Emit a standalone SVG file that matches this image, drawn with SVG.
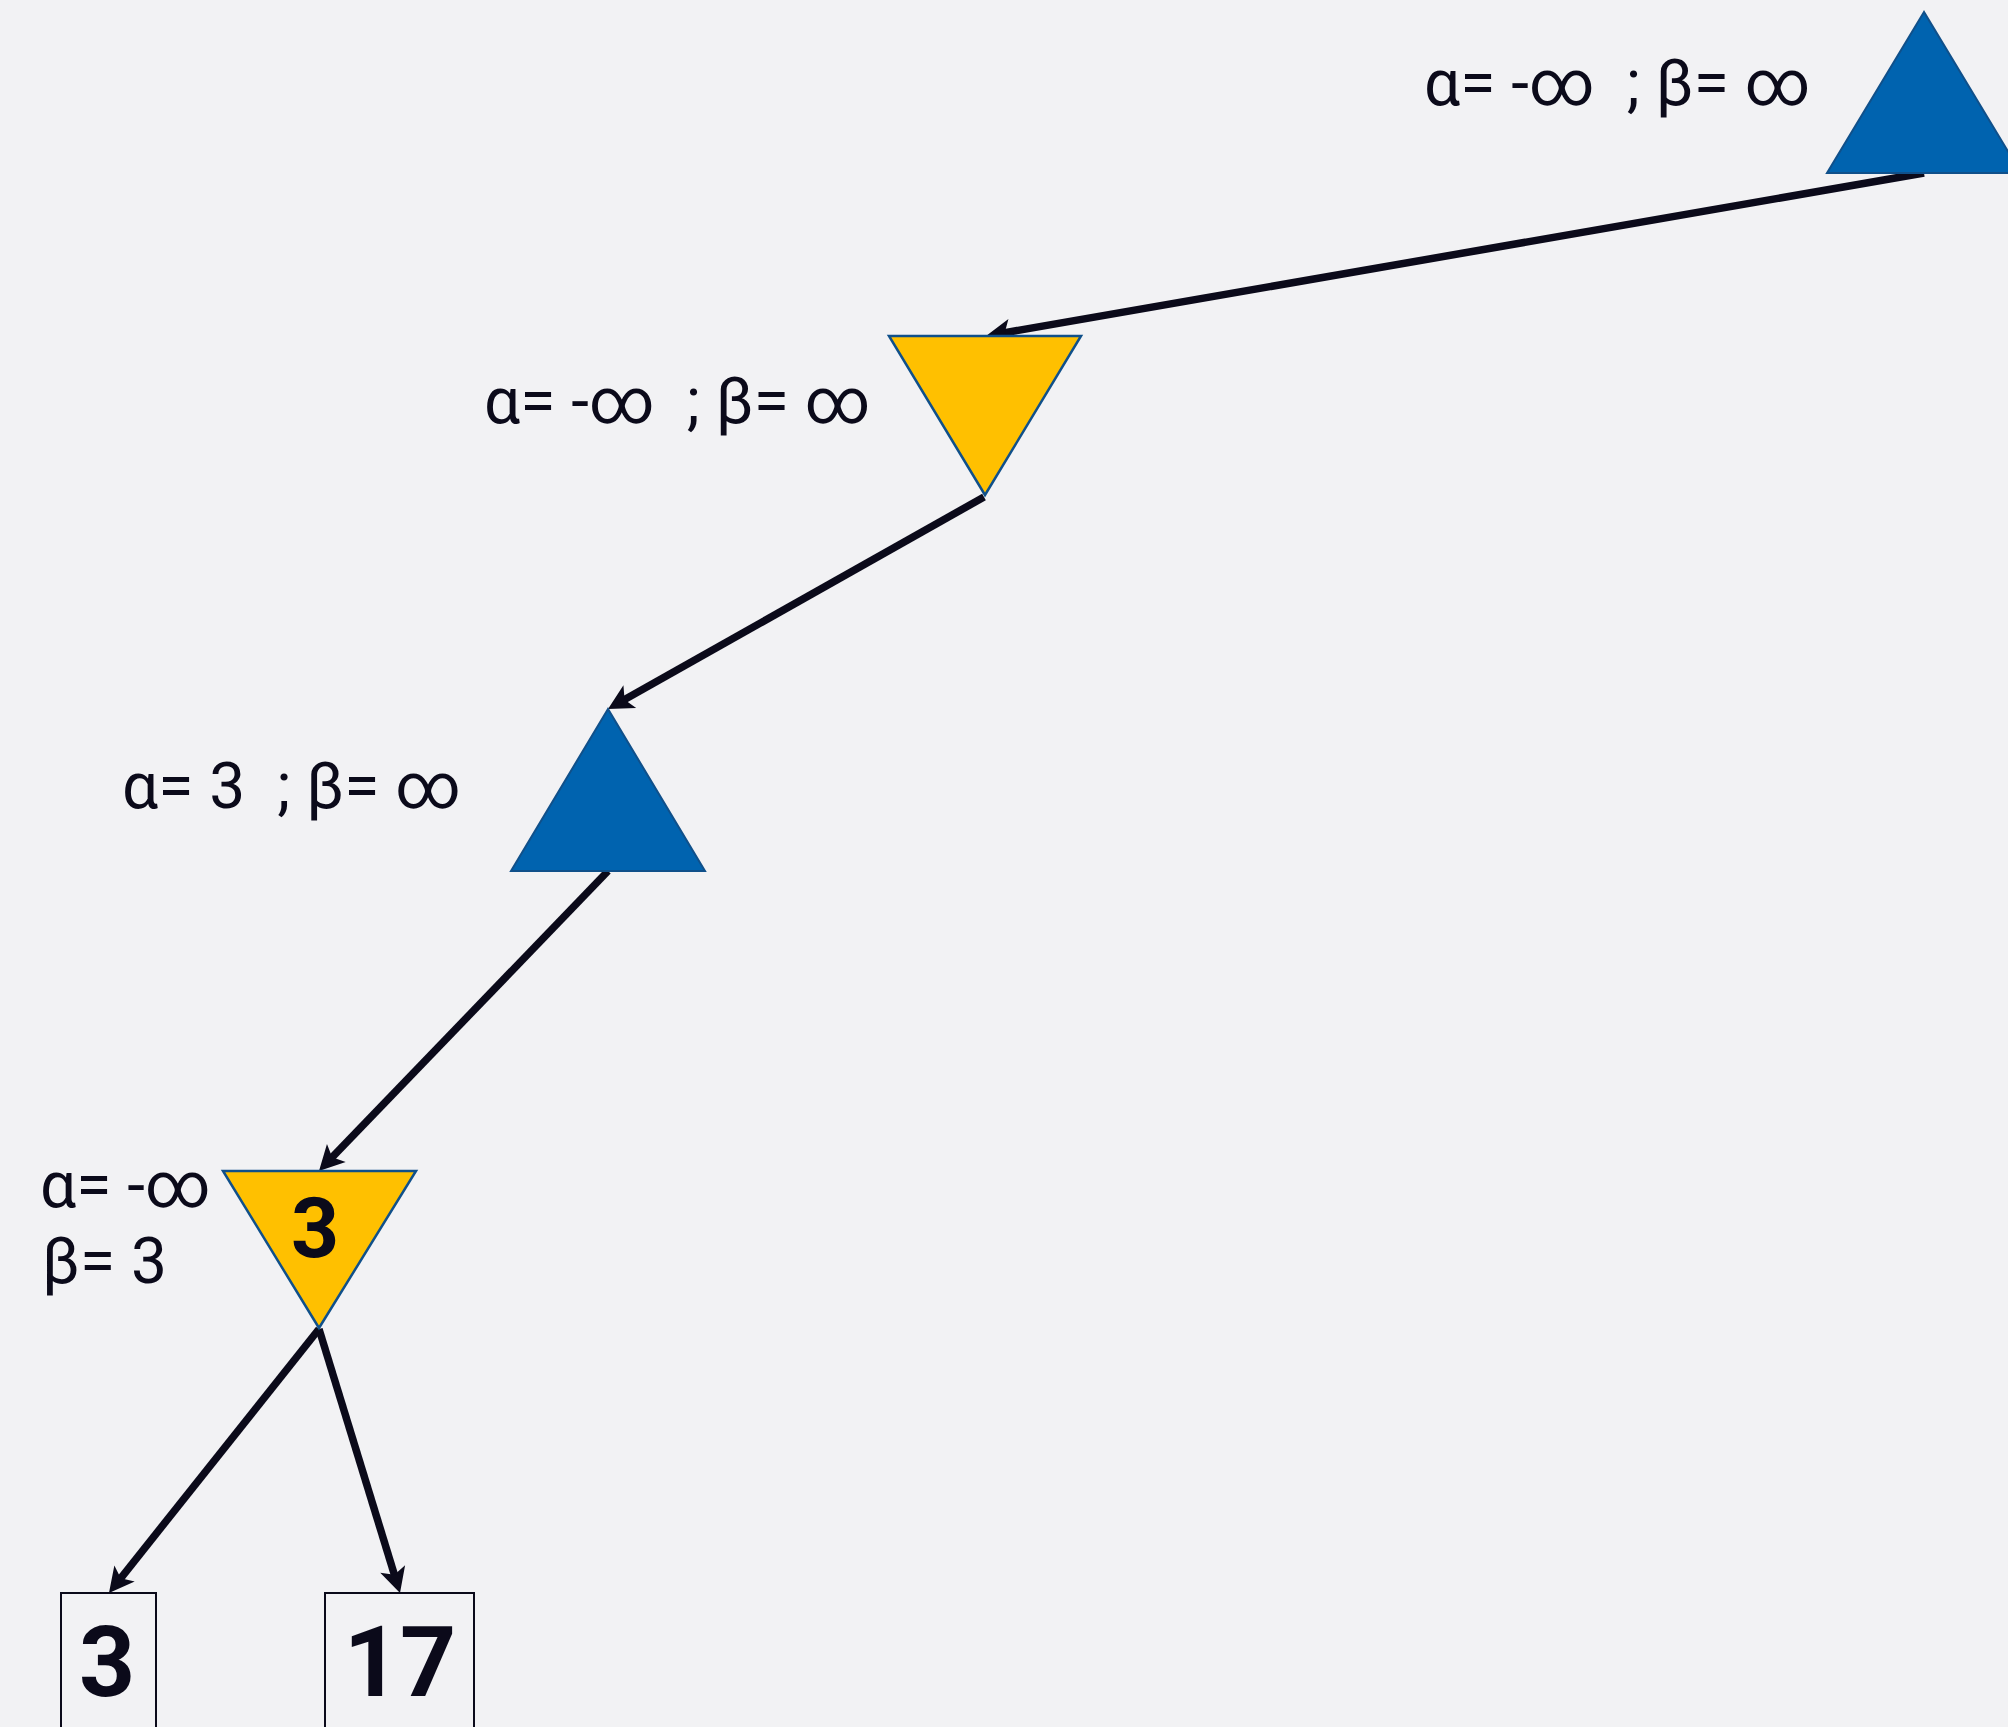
<svg xmlns="http://www.w3.org/2000/svg" width="2008" height="1727" viewBox="0 0 2008 1727">
<style>
.max{fill:#0063AF;stroke:#10508A;stroke-width:2}
.min{fill:#FFC000;stroke:#10508A;stroke-width:2.5}
.leaf{fill:none;stroke:#0B0A1A;stroke-width:2}
.lbl{font-family:Roboto,"Liberation Sans",sans-serif;font-size:64px;fill:#0B0A1A}
.val{font-family:Roboto,"Liberation Sans",sans-serif;font-weight:bold;fill:#0B0A1A;text-anchor:middle}
.edge{stroke:#0B0A1A;stroke-width:7.5;fill:none;marker-end:url(#arr)}
</style>
<defs>
<marker id="arr" viewBox="-27 -15 29 30" refX="-15" refY="0" markerWidth="29" markerHeight="30" markerUnits="userSpaceOnUse" orient="auto">
<path d="M0,0 L-25,-13 L-19,0 L-25,13 Z" fill="#0B0A1A"/>
</marker>
</defs>
<rect width="2008" height="1727" fill="#F2F2F4"/>
<g id="connectors">
<line class="edge" x1="1924" y1="173" x2="1000.8" y2="333.4"/>
<line class="edge" x1="984" y1="497" x2="621.1" y2="701.6"/>
<line class="edge" x1="608" y1="871" x2="329.4" y2="1160.2"/>
<line class="edge" x1="319" y1="1329" x2="118.3" y2="1581.3"/>
<line class="edge" x1="319" y1="1329" x2="395.6" y2="1578.6"/>
</g>
<g id="n1">
<polygon class="max" points="1924,12 1827,173 2021,173"/>
<text class="lbl" x="1424" y="105" xml:space="preserve">α= -∞  ; β= ∞</text>
</g>
<g id="n2">
<polygon class="min" points="889,336 1081,336 985,495"/>
<text class="lbl" x="484" y="423" xml:space="preserve">α= -∞  ; β= ∞</text>
</g>
<g id="n3">
<polygon class="max" points="608,709 511,871 705,871"/>
<text class="lbl" x="122" y="808" xml:space="preserve">α= 3  ; β= ∞</text>
</g>
<g id="n4">
<polygon class="min" points="223,1171 416,1171 319,1328"/>
<text class="val" x="315" y="1257" font-size="84">3</text>
<text class="lbl" x="40" y="1207" font-size="63">α= -∞</text>
<text class="lbl" x="42" y="1283" font-size="61">β= 3</text>
</g>
<g id="leaf1">
<rect class="leaf" x="61" y="1593" width="95" height="200"/>
<text class="val" x="107" y="1696" font-size="98">3</text>
</g>
<g id="leaf2">
<rect class="leaf" x="325" y="1593" width="149" height="200"/>
<text class="val" x="400" y="1696" font-size="98">17</text>
</g>
</svg>
